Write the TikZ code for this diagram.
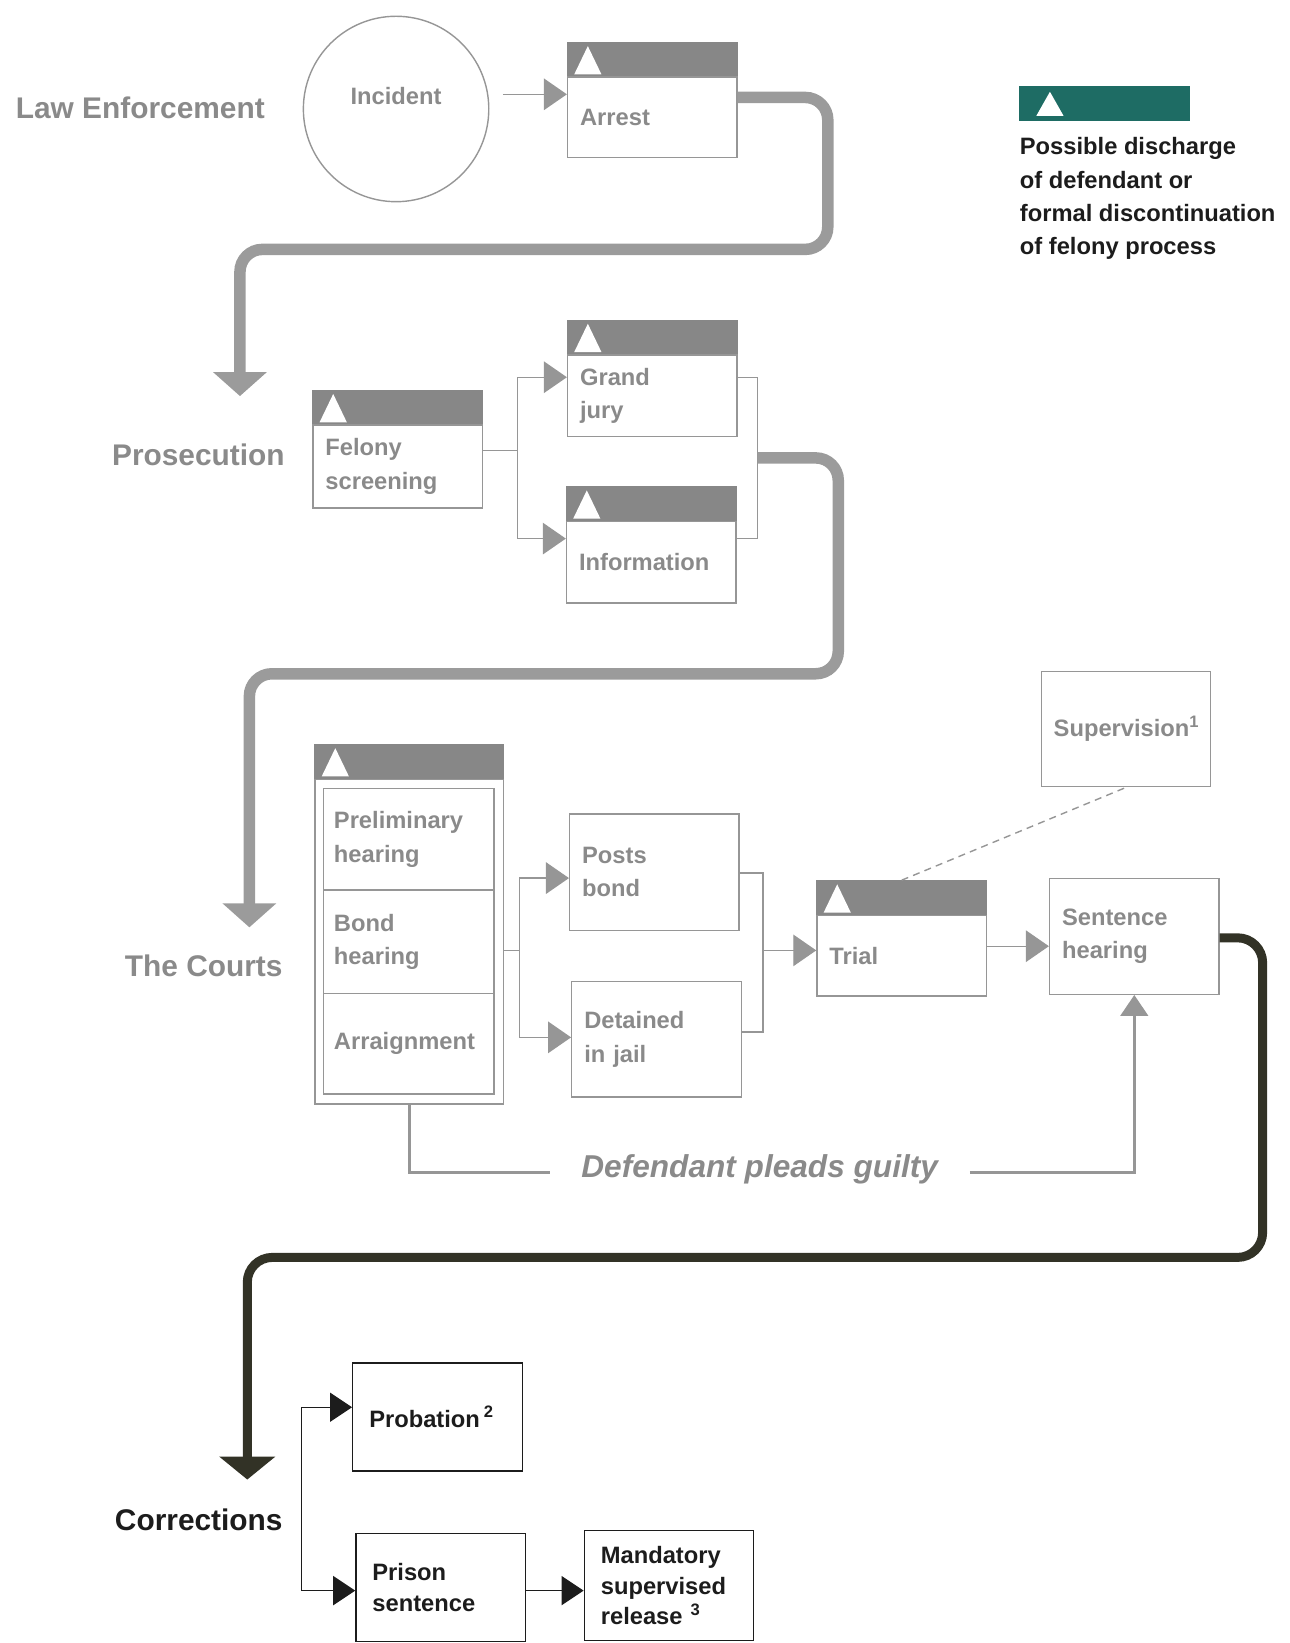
\documentclass[tikz,border=0pt]{standalone}
\usepackage{fontspec}
\setmainfont{Liberation Sans}
\usepackage{tikz}
\usetikzlibrary{calc,positioning,arrows.meta}
\definecolor{inkgray}{RGB}{138,138,138}
\definecolor{linegray}{RGB}{150,150,150}
\definecolor{hdrgray}{RGB}{135,135,135}
\definecolor{pipegray}{RGB}{155,155,155}
\definecolor{pipedark}{RGB}{50,50,38}
\definecolor{inkdark}{RGB}{28,28,28}
\definecolor{legendteal}{RGB}{30,108,100}
\newcommand{\px}{0.02096cm}

\begin{document}
\begin{tikzpicture}[x=\px, y=-\px,
    stagelabel/.style={anchor=east, text=inkgray, inner sep=0pt, font=\fontsize{17}{20}\selectfont\bfseries},
    stage/.style={draw=linegray, line width=0.8pt, anchor=north west, text=inkgray, align=left,
        text width=2.89cm, inner xsep=0.25cm, inner ysep=0pt, font=\fontsize{13.5}{19}\selectfont\bfseries},
    darkbox/.style={draw=inkdark, text=inkdark, text width=2.73cm, inner xsep=0.33cm, minimum height=2.16cm,
        font=\fontsize{13.5}{17.5}\selectfont\bfseries},
    flow/.style={draw=linegray, line width=0.8pt},
    flowarr/.style={flow, -{Triangle[length=0.46cm, width=0.63cm]}},
    darkflow/.style={draw=inkdark, line width=0.8pt},
    darkarr/.style={darkflow, -{Triangle[length=0.44cm, width=0.58cm]}},
    pipe/.style={draw=pipegray, line width=0.23cm, rounded corners=0.45cm, -{Triangle[length=0.48cm, width=1.05cm]}},
    darkpipe/.style={draw=pipedark, line width=0.18cm, rounded corners=0.5cm, -{Triangle[length=0.46cm, width=1.1cm]}},
    guiltyline/.style={draw=linegray, line width=1.8pt}]
    \useasboundingbox (0,0) rectangle (1231,1568);

    % stage labels
    \node[stagelabel] (lawlbl) at (253,103) {Law Enforcement};
    \node[stagelabel] (proslbl) at (272,434) {Prosecution};
    \node[stagelabel] (courtlbl) at (270,922) {The Courts};
    \node[stagelabel, text=inkdark] (corrlbl) at (270,1450) {Corrections};

    % law enforcement
    \node[circle, draw=linegray, line width=0.8pt, minimum size=3.71cm, text=inkgray, align=center,
        font=\fontsize{13.5}{19}\selectfont\bfseries] (incident) at (378,104) {Incident\\[-4pt]\phantom{I}};
    \node[stage, minimum height=1.61cm] (arrest) at (541,73) {Arrest};

    % prosecution
    \node[stage, minimum height=1.66cm] (felony) at (298,405) {Felony\\screening};
    \node[stage, minimum height=1.63cm] (grand) at (541,338) {Grand\\jury};
    \node[stage, minimum height=1.63cm] (info) at (540,497) {Information};

    % the courts
    \node[stage, minimum width=3.77cm, minimum height=6.5cm] (courts) at (300,743) {};
    \node[stage, text width=2.99cm, inner xsep=0.21cm, minimum height=2.03cm] (prelim) at (308,752) {Preliminary\\hearing};
    \node[stage, text width=2.99cm, inner xsep=0.21cm, minimum height=2.07cm, below=-0.8pt of prelim] (bond) {Bond\\hearing};
    \node[stage, text width=2.99cm, inner xsep=0.21cm, minimum height=2.01cm, below=-0.8pt of bond] (arraign) {Arraignment};
    \node[stage, minimum height=2.33cm] (posts) at (543,776) {Posts\\bond};
    \node[stage, minimum height=2.31cm] (jail) at (545,936) {Detained\\in jail};
    \node[stage, minimum height=1.61cm] (trial) at (779,873) {Trial};
    \node[stage, minimum height=2.31cm] (superv) at (993,640) {Supervision\textsuperscript{1}};
    \node[stage, minimum height=2.31cm] (sentence) at (1001,838) {Sentence\\hearing};

    % corrections
    \node[stage, darkbox] (prob) at (336,1300) {Probation\,\textsuperscript{2}};
    \node[stage, darkbox] (prison) at (339,1463) {Prison\\sentence};
    \node[stage, darkbox, minimum height=2.2cm] (mand) at (557,1460) {Mandatory\\supervised\\release\ \textsuperscript{3}};

    % legend
    \node[fill=legendteal, anchor=north west, minimum width=3.42cm, minimum height=0.69cm, inner sep=0pt] (legend) at (972,82) {};
    \fill[white] ($(legend.south west)+(17,-5)$) -- ($(legend.south west)+(43,-5)$) -- ($(legend.south west)+(30,-28)$) -- cycle;
    \node[anchor=north west, align=left, inner sep=0pt, text=inkdark,
        font=\fontsize{13.5}{19}\selectfont\bfseries] (legendtxt) at (973,131)
        {Possible discharge\\of defendant or\\formal discontinuation\\of felony process};

    % header bars with the discharge mark
    \foreach \b in {arrest,felony,grand,info,courts,trial}{
        \fill[hdrgray] (\b.north west) rectangle ($(\b.north east)+(0,-33)$);
        \fill[white] ($(\b.north west)+(7,-2)$) -- ($(\b.north west)+(33,-2)$) -- ($(\b.north west)+(20,-29)$) -- cycle;
    }

    % thin connectors
    \draw[flowarr, shorten <=0.27cm] (incident.east |- 0,90) -- (arrest.west |- 0,90);

    \coordinate (pj) at (494,430);
    \coordinate (pk) at (723,437);
    \draw[flow] (felony.east |- pj) -- (pj);
    \draw[flowarr] (pj) |- (grand.west |- 0,360);
    \draw[flowarr] (pj) |- (info.west |- 0,514);
    \draw[flow] (grand.east |- 0,360) -| (pk) |- (info.east |- 0,514);

    \coordinate (cj) at (496,907);
    \coordinate (ck) at (728,907);
    \draw[flow] (courts.east |- cj) -- (cj);
    \draw[flowarr] (cj) |- (posts.west |- 0,838);
    \draw[flowarr] (cj) |- (jail.west |- 0,990);
    \draw[flow] (posts.east |- 0,833) -| (ck) |- (jail.east |- 0,985);
    \draw[flowarr] (ck) -- (trial.west |- ck);
    \draw[flowarr] (trial.east |- 0,903) -- (sentence.west |- 0,903);
    \draw[flow, dash pattern=on 4pt off 3pt] ($(trial.north)+(0,-33)$) -- (superv.south);

    % guilty plea
    \node[text=inkgray, inner xsep=0.63cm, font=\fontsize{18}{20}\selectfont\bfseries\itshape] (guilty) at (725,1116) {Defendant pleads guilty};
    \draw[guiltyline] (courts.south) |- (guilty.west |- 0,1119);
    \draw[guiltyline, -{Triangle[length=0.42cm, width=0.55cm]}] (guilty.east |- 0,1119) -| (sentence.south);

    % main pipes
    \coordinate (prosin) at (229,378);
    \coordinate (courtsin) at (238,885);
    \coordinate (corrin) at (236,1412);
    \draw[pipe] (arrest.east |- 0,93) -- (790,93) -- (790,238) -- (229,238) -- (prosin);
    \draw[pipe] (pk) -- (800,437) -- (800,643) -- (238,643) -- (courtsin);
    \draw[darkpipe] (sentence.east |- 0,895) -- (1205,895) -- (1205,1200) -- (236,1200) -- (corrin);

    % corrections branches
    \coordinate (rbot) at (288,1518);
    \draw[darkarr] (rbot) |- (prob.west |- 0,1343);
    \draw[darkarr] (rbot) -- (prison.west |- rbot);
    \draw[darkarr] (prison.east |- rbot) -- (mand.west |- rbot);
\end{tikzpicture}
\end{document}
